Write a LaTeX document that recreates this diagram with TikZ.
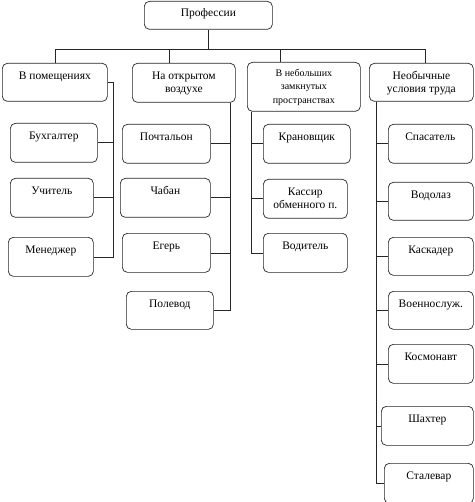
\documentclass[tikz,border=0pt]{standalone}
\usepackage{fontspec}
\setmainfont{Liberation Serif}
\usetikzlibrary{positioning, calc}
\tikzset{
  pbox/.style={rectangle, rounded corners=5pt, draw=black!85, line width=0.7pt,
               anchor=north west, inner sep=0pt, align=center,
               text height=16pt, text depth=#1,
               font=\fontsize{11.5}{13}\selectfont},
  pbox/.default=23pt,
  lnk/.style={draw=black!85, line width=0.7pt},
}

\begin{document}
\begin{tikzpicture}[x=1pt, y=-1pt]
  \useasboundingbox (0,0) rectangle (474,502);
  \node[pbox=13pt, text height=15pt, minimum width=128pt] (prof) at (144,1) {Профессии};

  % categories
  \node[pbox=22pt, minimum width=105pt] (pom) at (2,63) {В помещениях};
  \node[pbox=10pt, text height=29pt, minimum width=103pt] (otkr) at (132,63) {На открытом\\воздухе};
  \node[pbox=8pt, text height=41pt, minimum width=113pt,
        font=\fontsize{10}{13.5}\selectfont] (zamk) at (247,62) {В небольших\\замкнутых\\пространствах};
  \node[pbox=9pt, text height=29pt, minimum width=104pt] (neob) at (369,63) {Необычные\\условия труда};

  \coordinate (bar) at ([yshift=-20pt]prof.south);
  \coordinate (t2) at ([xshift=37pt]otkr.north west);
  \coordinate (t3) at ([xshift=33pt]zamk.north west);
  \coordinate (t4) at ([xshift=56pt]neob.north west);
  \draw[lnk] (prof.south) -- (bar);
  \foreach \t in {pom.north, t2, t3, t4}
    \draw[lnk] (\t) |- (bar);

  % in rooms
  \node[pbox, minimum width=87pt] (buh) at (10,123) {Бухгалтер};
  \node[pbox, minimum width=83pt] (uch) at (10,178) {Учитель};
  \node[pbox, minimum width=85pt] (men) at (8,237) {Менеджер};
  \coordinate (b1) at ([xshift=6pt]pom.east);
  \draw[lnk] (pom.east) -- (b1);
  \foreach \c in {buh, uch, men}
    \draw[lnk] (b1) |- (\c.east);

  % open air
  \node[pbox, minimum width=88pt] (poch) at (122,124) {Почтальон};
  \node[pbox, minimum width=90pt] (chab) at (120,178) {Чабан};
  \node[pbox, minimum width=88pt] (eger) at (122,233) {Егерь};
  \node[pbox=22pt, minimum width=87pt] (pol) at (126,291) {Полевод};
  \coordinate (b2) at ([xshift=-5pt]otkr.south east);
  \foreach \c in {poch, chab, eger, pol}
    \draw[lnk] (b2) |- (\c.east);

  % small closed spaces
  \node[pbox, minimum width=87pt] (kran) at (263,124) {Крановщик};
  \node[pbox=10pt, text height=29pt, minimum width=84pt] (kas) at (263,179) {Кассир\\обменного п.};
  \node[pbox, minimum width=84pt] (vod) at (263,233) {Водитель};
  \coordinate (b3) at ([xshift=4pt]zamk.south west);
  \foreach \c in {kran, kas, vod}
    \draw[lnk] (b3) |- (\c.west);

  % unusual conditions
  \node[pbox, minimum width=84pt] (spas) at (388,124) {Спасатель};
  \node[pbox=22pt, minimum width=85pt] (vodl) at (388,182) {Водолаз};
  \node[pbox=22pt, minimum width=85pt] (kask) at (388,237) {Каскадер};
  \node[pbox=22pt, minimum width=85pt] (voen) at (388,291) {Военнослуж.};
  \node[pbox, minimum width=85pt] (kosm) at (388,344) {Космонавт};
  \node[pbox, minimum width=92pt] (shah) at (381,406) {Шахтер};
  \node[pbox=24pt, minimum width=89pt] (stal) at (384,463) {Сталевар};
  \coordinate (b4) at ([xshift=7pt]neob.south west);
  \foreach \c in {spas, vodl, kask, voen, kosm, shah, stal}
    \draw[lnk] (b4) |- (\c.west);
\end{tikzpicture}
\end{document}
